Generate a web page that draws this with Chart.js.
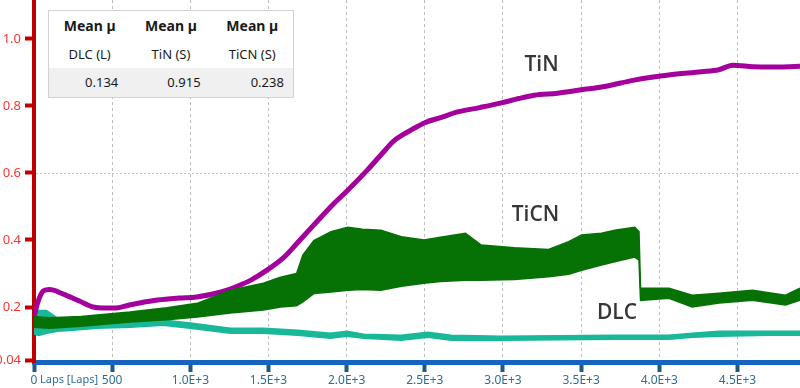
<!DOCTYPE html>
<html>
<head>
<meta charset="utf-8">
<script src="https://cdn.jsdelivr.net/npm/chart.js@4.4.1/dist/chart.umd.min.js"></script>
<style>
  html, body { margin: 0; padding: 0; background: #ffffff; }
  #wrap { position: relative; width: 800px; height: 388px; overflow: hidden; }
  #c { position: absolute; left: 0; top: 0; }
  #tbl {
    position: absolute; left: 48px; top: 10px; width: 244px; height: 86px;
    border: 1px solid #d2d2d2; background: #ffffff;
    font-family: "Noto Sans", "Open Sans", sans-serif; color: #1a1a1a;
  }
  #tbl .row { position: absolute; left: 0; width: 244px; display: flex; }
  #tbl .cell { width: 81.3px; text-align: center; white-space: nowrap; }
  #tbl .hdr { top: 4px; height: 22px; line-height: 22px; font-weight: bold; font-size: 14px; }
  #tbl .sub { top: 32px; height: 22px; line-height: 22px; font-size: 13px; }
  #tbl .val { top: 57px; height: 29px; line-height: 29px; background: #f0f0f0; font-size: 13px; }
  #tbl .val .cell { text-align: right; box-sizing: border-box; }
</style>
</head>
<body>
<div id="wrap">
  <canvas id="c" width="800" height="388"></canvas>
  <div id="tbl">
    <div class="row hdr"><div class="cell">Mean µ</div><div class="cell">Mean µ</div><div class="cell">Mean µ</div></div>
    <div class="row sub"><div class="cell">DLC (L)</div><div class="cell">TiN (S)</div><div class="cell">TiCN (S)</div></div>
    <div class="row val"><div class="cell" style="padding-right:12px">0.134</div><div class="cell" style="padding-right:11px">0.915</div><div class="cell" style="padding-right:9px">0.238</div></div>
  </div>
</div>
<script>
// ---------------- data ----------------
const xTickValues = [0, 500, 1000, 1500, 2000, 2500, 3000, 3500, 4000, 4500];
const xTickLabels = ['0', '500', '1.0E+3', '1.5E+3', '2.0E+3', '2.5E+3', '3.0E+3', '3.5E+3', '4.0E+3', '4.5E+3'];
const yTickValues = [0.04, 0.2, 0.4, 0.6, 0.8, 1.0];
const yTickLabels = ['0.04', '0.2', '0.4', '0.6', '0.8', '1.0'];
const yRefLine = 0.6;

// TiN (S) friction coefficient
const tinLaps = [0, 25, 60, 100, 180, 290, 380, 460, 540, 610, 790, 930, 1040, 1190, 1300, 1390, 1490, 1600, 1690, 1790, 1900, 2010, 2135, 2250, 2300, 2360, 2420, 2500, 2600, 2710, 2850, 2990, 3100, 3200, 3350, 3500, 3650, 3840, 4060, 4270, 4380, 4470, 4600, 4700, 4900];
const tinMu   = [0.170, 0.215, 0.248, 0.252, 0.240, 0.218, 0.200, 0.197, 0.198, 0.206, 0.221, 0.227, 0.230, 0.244, 0.262, 0.281, 0.310, 0.349, 0.394, 0.445, 0.500, 0.550, 0.610, 0.670, 0.695, 0.714, 0.730, 0.750, 0.765, 0.782, 0.795, 0.809, 0.822, 0.832, 0.838, 0.848, 0.858, 0.877, 0.892, 0.902, 0.908, 0.921, 0.917, 0.916, 0.918];

// TiCN (S) friction coefficient: noisy band (upper / lower envelope)
const ticnLaps = [0, 100, 300, 614, 850, 1044, 1256, 1467, 1577, 1680, 1720, 1790, 1900, 2007, 2100, 2219, 2350, 2495, 2600, 2760, 2861, 3073, 3292, 3420, 3503, 3630, 3715, 3843, 3870, 3880, 4062, 4210, 4383, 4595, 4807, 4900];
const ticnHigh = [0.172, 0.168, 0.172, 0.185, 0.198, 0.211, 0.250, 0.271, 0.289, 0.300, 0.355, 0.398, 0.425, 0.438, 0.432, 0.429, 0.410, 0.400, 0.408, 0.420, 0.385, 0.377, 0.372, 0.395, 0.415, 0.420, 0.429, 0.438, 0.425, 0.256, 0.256, 0.235, 0.241, 0.250, 0.235, 0.256];
const ticnLow  = [0.140, 0.137, 0.143, 0.155, 0.162, 0.170, 0.182, 0.191, 0.200, 0.204, 0.215, 0.240, 0.245, 0.250, 0.252, 0.250, 0.262, 0.271, 0.276, 0.280, 0.280, 0.282, 0.290, 0.298, 0.310, 0.325, 0.335, 0.349, 0.340, 0.220, 0.226, 0.200, 0.212, 0.220, 0.206, 0.220];

// DLC (L) friction coefficient: band (upper / lower envelope)
const dlcLaps = [0, 30, 80, 150, 250, 400, 614, 825, 1000, 1256, 1467, 1686, 1898, 2000, 2110, 2348, 2521, 2669, 2990, 3715, 4062, 4210, 4383, 4705, 4900];
const dlcHigh = [0.178, 0.190, 0.190, 0.167, 0.158, 0.155, 0.155, 0.161, 0.152, 0.137, 0.137, 0.131, 0.122, 0.128, 0.119, 0.116, 0.125, 0.116, 0.113, 0.116, 0.116, 0.122, 0.128, 0.128, 0.128];
const dlcLow  = [0.120, 0.115, 0.122, 0.128, 0.131, 0.137, 0.140, 0.146, 0.137, 0.122, 0.122, 0.116, 0.107, 0.113, 0.107, 0.101, 0.110, 0.101, 0.101, 0.104, 0.104, 0.110, 0.113, 0.116, 0.116];

// curve labels (data coordinates)
const curveLabels = [
  { text: 'TiN',  x: 3247, y: 0.922 },
  { text: 'TiCN', x: 3208, y: 0.474 },
  { text: 'DLC',  x: 3729, y: 0.182 }
];

// ---------------- build ----------------
const pts = (xs, ys) => xs.map((x, i) => ({ x: x, y: ys[i] }));

const COL_TIN = '#a3009c';
const COL_TICN = '#067206';
const COL_DLC = '#18b898';

const labelPlugin = {
  id: 'labelPlugin',
  beforeDatasetsDraw(chart) {
    const ctx = chart.ctx;
    const ys = chart.scales.y;
    const a = chart.chartArea;
    const py = Math.round(ys.getPixelForValue(yRefLine)) + 0.5;
    ctx.save();
    ctx.strokeStyle = '#c4c4c4';
    ctx.lineWidth = 1;
    ctx.setLineDash([2, 2]);
    ctx.beginPath();
    ctx.moveTo(a.left + 2, py);
    ctx.lineTo(a.right, py);
    ctx.stroke();
    ctx.restore();
  },
  afterDatasetsDraw(chart) {
    const ctx = chart.ctx;
    const xs = chart.scales.x, ys = chart.scales.y;
    ctx.save();
    ctx.fillStyle = '#363636';
    ctx.font = '600 21px "Open Sans", "Noto Sans", sans-serif';
    ctx.textAlign = 'center';
    ctx.textBaseline = 'middle';
    curveLabels.forEach(l => {
      ctx.fillText(l.text, xs.getPixelForValue(l.x), ys.getPixelForValue(l.y));
    });
    ctx.restore();
  },
  afterDraw(chart) {
    const ctx = chart.ctx;
    const xs = chart.scales.x;
    ctx.save();
    ctx.fillStyle = '#2f6d99';
    ctx.font = '11px "Noto Sans", "Open Sans", sans-serif';
    ctx.textAlign = 'left';
    ctx.textBaseline = 'middle';
    ctx.fillText('Laps [Laps]', xs.getPixelForValue(0) + 6, 380);
    ctx.restore();
  }
};

new Chart(document.getElementById('c'), {
  type: 'line',
  data: {
    datasets: [
      { data: pts(ticnLaps, ticnHigh), borderColor: COL_TICN, backgroundColor: COL_TICN, borderWidth: 1.5, fill: '+1', pointRadius: 0, tension: 0, clip: 0 },
      { data: pts(ticnLaps, ticnLow),  borderColor: COL_TICN, backgroundColor: COL_TICN, borderWidth: 1.5, fill: false, pointRadius: 0, tension: 0, clip: 0 },
      { data: pts(tinLaps, tinMu),     borderColor: COL_TIN,  backgroundColor: COL_TIN,  borderWidth: 5, fill: false, pointRadius: 0, cubicInterpolationMode: 'monotone', clip: 0 },
      { data: pts(dlcLaps, dlcHigh),   borderColor: COL_DLC,  backgroundColor: COL_DLC,  borderWidth: 1.5, fill: '+1', pointRadius: 0, tension: 0, clip: 0 },
      { data: pts(dlcLaps, dlcLow),    borderColor: COL_DLC,  backgroundColor: COL_DLC,  borderWidth: 1.5, fill: false, pointRadius: 0, tension: 0, clip: 0 }
    ]
  },
  options: {
    responsive: false,
    animation: false,
    devicePixelRatio: 1,
    layout: { padding: 0 },
    plugins: { legend: { display: false }, tooltip: { enabled: false } },
    scales: {
      x: {
        type: 'linear',
        min: 0, max: 4900,
        afterBuildTicks: s => { s.ticks = xTickValues.map(v => ({ value: v })); },
        afterFit: s => { s.height = 26; s.paddingLeft = 0; s.paddingRight = 0; },
        ticks: {
          color: '#2f6d99',
          font: { family: '"Noto Sans", "Open Sans", sans-serif', size: 12 },
          padding: 1,
          maxRotation: 0,
          autoSkip: false,
          callback: (v, i) => xTickLabels[i]
        },
        grid: {
          color: '#bdbdbd', lineWidth: 1, drawOnChartArea: true,
          tickLength: 10, tickWidth: 4, tickColor: '#1f5a82', tickBorderDash: []
        },
        border: { display: true, color: '#1565c0', width: 5, dash: [3, 3] }
      },
      y: {
        type: 'linear',
        min: 0.036, max: 1.116,
        afterBuildTicks: s => { s.ticks = yTickValues.map(v => ({ value: v })); },
        afterFit: s => { s.width = 34; s.paddingTop = 0; s.paddingBottom = 0; },
        ticks: {
          color: '#ff3333',
          font: { family: '"Noto Sans", "Open Sans", sans-serif', size: 13 },
          padding: 4,
          autoSkip: false,
          callback: (v, i) => yTickLabels[i]
        },
        grid: {
          drawOnChartArea: false,
          tickLength: 9, tickWidth: 4, tickColor: '#c00000', tickBorderDash: []
        },
        border: { display: true, color: '#c00000', width: 4 }
      }
    }
  },
  plugins: [labelPlugin]
});
</script>
</body>
</html>
